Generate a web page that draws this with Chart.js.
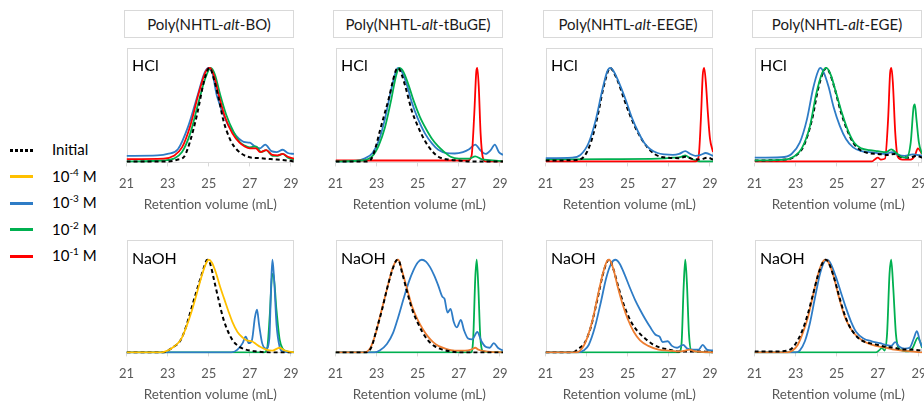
<!DOCTYPE html>
<html>
<head>
<meta charset="utf-8">
<script src="https://cdn.jsdelivr.net/npm/chart.js@4.4.1/dist/chart.umd.min.js"></script>
<style>
  html, body { margin:0; padding:0; background:#fff; }
  body { position:relative; width:924px; height:402px; overflow:hidden; font-family: Lato, "Open Sans", sans-serif; }
  .tbox { position:absolute; top:10px; height:26px; width:168px; border:1px solid #d9d9d9; box-sizing:content-box;
          display:flex; align-items:center; justify-content:center; font-size:15px; color:#1a1a1a; white-space:nowrap; }
  .cv { position:absolute; }
  .plabel { position:absolute; font-size:16px; color:#000; line-height:16px; }
  .leg { position:absolute; left:10px; width:23px; height:3px; }
  .legt { position:absolute; left:52px; font-size:15px; color:#000; line-height:16px; }
  .legt sup { font-size:10px; vertical-align:6px; line-height:0; }
</style>
</head>
<body>
<script>
// ---------------- DATA ----------------
const xTicks = [21, 23, 25, 27, 29];
const xMin = 21, xMax = 29.15;
const polymerNames = ['BO', 'tBuGE', 'EEGE', 'EGE'];
const conditions = ['HCl', 'NaOH'];
const axisTitle = 'Retention volume (mL)';
const legendLabels = ['Initial', '10<sup>-4</sup> M', '10<sup>-3</sup> M', '10<sup>-2</sup> M', '10<sup>-1</sup> M'];

// Poly(NHTL-alt-BO), HCl
const boHclInitial = [[21,0],[23,0],[23.5,0.02],[23.8,0.05],[24.1,0.22],[24.45,0.52],[24.75,0.84],[24.95,0.98],[25.05,1.0],[25.25,0.88],[25.5,0.66],[25.7,0.45],[26.05,0.23],[26.35,0.13],[26.9,0.05],[27.5,0.035],[28,0.025],[28.8,0.01],[29.15,0]];
const boHcl1e3 = [[21,0.06],[22.5,0.065],[23.0,0.08],[23.5,0.13],[24.0,0.375],[24.45,0.7],[24.8,0.95],[25.0,1.0],[25.15,0.97],[25.4,0.7],[25.9,0.41],[26.35,0.27],[26.7,0.21],[27.0,0.2],[27.25,0.16],[27.5,0.14],[27.75,0.18],[28.05,0.11],[28.3,0.1],[28.6,0.125],[28.85,0.09],[29.15,0.08]];
const boHcl1e2 = [[21,0.0],[22.8,0.01],[23.3,0.03],[23.7,0.1],[24.1,0.3],[24.5,0.63],[24.85,0.9],[25.1,1.0],[25.3,0.93],[25.55,0.72],[25.85,0.5],[26.2,0.32],[26.5,0.21],[26.75,0.17],[27.0,0.15],[27.3,0.16],[27.55,0.1],[27.8,0.12],[28.1,0.06],[28.35,0.06],[28.6,0.08],[28.85,0.04],[29.15,0.02]];
const boHcl1e1 = [[21,0.025],[22.8,0.03],[23.3,0.06],[23.7,0.15],[24.1,0.38],[24.5,0.72],[24.85,0.96],[25.05,1.0],[25.25,0.92],[25.5,0.7],[25.8,0.47],[26.15,0.3],[26.5,0.2],[26.75,0.16],[27.0,0.14],[27.3,0.14],[27.5,0.1],[27.8,0.12],[28.1,0.07],[28.35,0.065],[28.6,0.08],[28.85,0.05],[29.15,0.03]];

// Poly(NHTL-alt-tBuGE), HCl
const tbuHclInitial = [[21,0],[22.5,0],[22.75,0.03],[22.95,0.15],[23.15,0.32],[23.4,0.52],[23.6,0.68],[23.8,0.87],[23.95,0.98],[24.05,1.0],[24.2,0.94],[24.45,0.76],[24.7,0.55],[25.0,0.38],[25.35,0.22],[25.7,0.11],[26.0,0.05],[26.5,0.02],[27.0,0.01],[27.5,0],[29.15,0]];
const tbuHcl1e3 = [[21,0],[22.0,0.005],[22.4,0.03],[22.8,0.09],[23.1,0.22],[23.4,0.45],[23.7,0.76],[23.95,0.97],[24.05,1.0],[24.25,0.95],[24.5,0.8],[24.7,0.64],[25.0,0.46],[25.35,0.3],[25.7,0.19],[26.0,0.125],[26.4,0.09],[26.8,0.085],[27.2,0.1],[27.5,0.13],[27.8,0.18],[28.05,0.12],[28.3,0.08],[28.55,0.12],[28.75,0.18],[28.95,0.1],[29.15,0.07]];
const tbuHcl1e2 = [[21,0],[22.3,0.01],[22.8,0.06],[23.1,0.17],[23.4,0.36],[23.7,0.65],[23.95,0.92],[24.1,1.0],[24.3,0.96],[24.55,0.82],[24.8,0.65],[25.1,0.48],[25.4,0.35],[25.7,0.24],[26.0,0.16],[26.3,0.1],[26.6,0.05],[27.0,0.03],[27.5,0.03],[27.8,0.055],[28.1,0.025],[28.5,0.015],[29.15,0]];
const tbuHcl1e1 = [[21,0.01],[27.45,0.01],[27.62,0.06],[27.75,0.5],[27.85,0.96],[27.9,1.0],[27.97,0.8],[28.06,0.3],[28.16,0.05],[28.3,0],[29.15,0]];

// Poly(NHTL-alt-EEGE), HCl
const eegeHclInitial = [[21,0.01],[22.5,0.015],[22.9,0.06],[23.2,0.2],[23.5,0.45],[23.8,0.77],[24.05,0.97],[24.15,1.0],[24.3,0.96],[24.55,0.84],[24.8,0.68],[25.1,0.5],[25.4,0.35],[25.7,0.23],[26.0,0.14],[26.3,0.08],[26.6,0.05],[27.0,0.04],[27.5,0.035],[27.8,0.05],[28.1,0.03],[28.5,0.02],[28.9,0.04],[29.15,0.02]];
const eegeHcl1e3 = [[21,0.035],[22.3,0.04],[22.7,0.07],[23.1,0.2],[23.45,0.45],[23.75,0.75],[24.0,0.96],[24.15,1.0],[24.3,0.97],[24.6,0.83],[24.9,0.66],[25.2,0.47],[25.5,0.32],[25.8,0.2],[26.1,0.13],[26.45,0.09],[26.8,0.075],[27.2,0.07],[27.5,0.08],[27.8,0.11],[28.05,0.08],[28.3,0.06],[28.55,0.07],[28.8,0.09],[29.15,0.06]];
const eegeHcl1e2 = [[21,0.02],[24,0.025],[26.5,0.03],[27.2,0.04],[27.6,0.05],[27.8,0.065],[28.0,0.04],[28.3,0.01],[28.5,0],[29.15,0]];
const eegeHcl1e1 = [[21,0],[28.3,0],[28.45,0.05],[28.56,0.45],[28.65,0.92],[28.72,1.0],[28.8,0.85],[28.9,0.52],[29.0,0.25],[29.15,0.1]];

// Poly(NHTL-alt-EGE), HCl
const egeHclInitial = [[21,0.01],[22.5,0.02],[23.0,0.06],[23.4,0.17],[23.8,0.45],[24.1,0.78],[24.35,0.96],[24.5,1.0],[24.65,0.95],[24.9,0.78],[25.2,0.53],[25.5,0.34],[25.8,0.2],[26.1,0.13],[26.5,0.09],[27.0,0.08],[27.5,0.07],[27.8,0.08],[28.1,0.05],[28.5,0.04],[28.9,0.06],[29.15,0.04]];
const egeHcl1e3 = [[21,0.04],[22.3,0.045],[22.8,0.08],[23.2,0.2],[23.55,0.45],[23.85,0.78],[24.1,0.97],[24.2,1.0],[24.35,0.96],[24.6,0.8],[24.85,0.58],[25.15,0.38],[25.45,0.24],[25.8,0.15],[26.2,0.11],[26.6,0.1],[27.0,0.09],[27.35,0.08],[27.7,0.1],[28.0,0.07],[28.3,0.06],[28.7,0.075],[29.15,0.06]];
const egeHcl1e2 = [[21,0.01],[22.5,0.02],[22.9,0.05],[23.3,0.14],[23.7,0.38],[24.0,0.72],[24.3,0.95],[24.5,1.0],[24.7,0.93],[24.95,0.75],[25.25,0.52],[25.55,0.33],[25.85,0.2],[26.2,0.14],[26.6,0.12],[27.0,0.11],[27.4,0.1],[27.65,0.13],[27.9,0.09],[28.15,0.05],[28.4,0.04],[28.6,0.2],[28.74,0.58],[28.8,0.61],[28.88,0.45],[29.0,0.2],[29.15,0.08]];
const egeHcl1e1 = [[21,0],[26.7,0],[26.85,0.02],[27.0,0.04],[27.15,0.02],[27.35,0.03],[27.5,0.45],[27.6,0.95],[27.66,1.0],[27.73,0.85],[27.85,0.3],[27.97,0.05],[28.2,0.02],[28.6,0.02],[28.8,0.06],[28.95,0.14],[29.15,0.08]];

// Poly(NHTL-alt-BO), NaOH
const boNaohInitial = [[21,0],[22.8,0],[23.0,0.02],[23.3,0.06],[23.65,0.14],[23.9,0.28],[24.1,0.43],[24.35,0.62],[24.6,0.8],[24.8,0.94],[24.92,1.0],[25.05,0.97],[25.3,0.74],[25.5,0.55],[25.7,0.37],[25.95,0.22],[26.2,0.12],[26.5,0.06],[26.8,0.03],[27.3,0.01],[28,0],[29.15,0]];
const boNaoh1e4 = [[21,0],[22.7,0],[23.0,0.02],[23.3,0.06],[23.65,0.14],[23.9,0.27],[24.15,0.43],[24.4,0.62],[24.65,0.82],[24.85,0.95],[25.0,1.0],[25.15,0.97],[25.35,0.86],[25.55,0.71],[25.75,0.58],[25.95,0.45],[26.15,0.33],[26.4,0.22],[26.65,0.16],[26.85,0.13],[27.1,0.12],[27.3,0.09],[27.5,0.06],[27.8,0.03],[28.1,0.02],[28.45,0.05],[28.7,0.02],[29.15,0]];
const boNaoh1e3 = [[21,0],[26.1,0],[26.4,0.03],[26.65,0.1],[26.8,0.17],[26.95,0.1],[27.1,0.13],[27.25,0.38],[27.35,0.46],[27.45,0.3],[27.6,0.1],[27.8,0.04],[27.95,0.15],[28.04,0.75],[28.1,1.0],[28.18,0.8],[28.3,0.3],[28.45,0.06],[28.6,0.01],[29.15,0]];
const boNaoh1e2 = [[21,0],[27.7,0],[27.85,0.05],[27.97,0.4],[28.08,0.82],[28.14,0.85],[28.3,0.45],[28.45,0.14],[28.6,0.04],[28.8,0.01],[29.15,0]];

// Poly(NHTL-alt-tBuGE), NaOH
const tbuNaohInitial = [[21,0],[22.5,0],[22.75,0.06],[23.0,0.25],[23.25,0.45],[23.5,0.68],[23.75,0.88],[23.95,0.99],[24.05,1.0],[24.25,0.85],[24.5,0.64],[24.75,0.45],[25.0,0.32],[25.25,0.21],[25.5,0.13],[25.8,0.07],[26.2,0.03],[26.6,0.01],[27,0],[29.15,0]];
const tbuNaoh1e4 = [[21,0],[22.4,0],[22.7,0.05],[22.95,0.2],[23.2,0.42],[23.5,0.68],[23.75,0.89],[23.95,0.99],[24.05,1.0],[24.25,0.87],[24.5,0.67],[24.75,0.48],[25.0,0.35],[25.25,0.25],[25.5,0.17],[25.75,0.11],[26.0,0.07],[26.35,0.04],[26.8,0.02],[27.3,0.02],[27.6,0.03],[27.8,0.05],[27.95,0.03],[28.3,0.01],[29.15,0]];
const tbuNaoh1e3 = [[21,0],[22.9,0],[23.15,0.02],[23.5,0.09],[23.8,0.21],[24.05,0.38],[24.3,0.57],[24.55,0.75],[24.8,0.89],[25.0,0.97],[25.2,1.0],[25.4,0.98],[25.6,0.92],[25.8,0.83],[26.0,0.72],[26.2,0.6],[26.3,0.58],[26.45,0.43],[26.6,0.47],[26.75,0.33],[26.9,0.27],[27.1,0.35],[27.25,0.24],[27.45,0.15],[27.65,0.14],[27.9,0.22],[28.1,0.12],[28.3,0.06],[28.5,0.05],[28.7,0.1],[28.9,0.05],[29.15,0.02]];
const tbuNaoh1e2 = [[21,0],[27.6,0],[27.7,0.15],[27.8,0.8],[27.87,1.0],[27.95,0.7],[28.05,0.15],[28.2,0.01],[29.15,0]];

// Poly(NHTL-alt-EEGE), NaOH
const eegeNaohInitial = [[21,0],[22.3,0],[22.6,0.04],[22.9,0.1],[23.2,0.27],[23.5,0.55],[23.8,0.85],[24.0,0.98],[24.1,1.0],[24.3,0.9],[24.55,0.7],[24.8,0.52],[25.05,0.38],[25.3,0.28],[25.6,0.2],[25.9,0.14],[26.2,0.09],[26.6,0.05],[27.0,0.03],[27.5,0.01],[28,0.01],[28.6,0.01],[29.15,0]];
const eegeNaoh1e4 = [[21,0],[22.5,0],[22.8,0.05],[23.05,0.17],[23.3,0.36],[23.55,0.62],[23.8,0.86],[24.0,0.99],[24.1,1.0],[24.3,0.9],[24.5,0.72],[24.75,0.52],[25.0,0.36],[25.3,0.22],[25.6,0.13],[26.0,0.07],[26.5,0.03],[27.0,0.02],[27.5,0.01],[27.8,0.02],[28.0,0.03],[28.3,0.01],[29.15,0]];
const eegeNaoh1e3 = [[21,0],[22.6,0],[22.85,0.02],[23.1,0.08],[23.4,0.27],[23.7,0.55],[23.95,0.8],[24.2,0.96],[24.4,1.0],[24.6,0.96],[24.85,0.84],[25.1,0.7],[25.35,0.57],[25.6,0.46],[25.85,0.36],[26.1,0.27],[26.35,0.19],[26.55,0.17],[26.7,0.11],[26.95,0.12],[27.15,0.07],[27.4,0.05],[27.7,0.08],[27.9,0.04],[28.2,0.03],[28.45,0.03],[28.65,0.08],[28.85,0.03],[29.15,0.02]];
const eegeNaoh1e2 = [[21,0],[27.5,0],[27.62,0.1],[27.72,0.7],[27.8,1.0],[27.88,0.75],[27.98,0.2],[28.1,0.02],[29.15,0]];

// Poly(NHTL-alt-EGE), NaOH
const egeNaohInitial = [[21,0.01],[22.0,0.01],[22.6,0.02],[22.85,0.05],[23.1,0.13],[23.35,0.25],[23.6,0.42],[23.85,0.63],[24.1,0.84],[24.3,0.96],[24.45,1.0],[24.6,0.97],[24.85,0.82],[25.1,0.62],[25.35,0.43],[25.6,0.29],[25.9,0.19],[26.2,0.13],[26.6,0.1],[27.0,0.08],[27.4,0.06],[27.8,0.05],[28.2,0.03],[28.6,0.03],[29.15,0.02]];
const egeNaoh1e4 = [[21,0],[22.6,0],[22.85,0.02],[23.1,0.08],[23.35,0.21],[23.6,0.38],[23.85,0.62],[24.1,0.85],[24.3,0.97],[24.45,1.0],[24.6,0.97],[24.85,0.82],[25.1,0.6],[25.4,0.38],[25.7,0.25],[26.0,0.17],[26.4,0.11],[26.9,0.07],[27.4,0.05],[27.8,0.03],[28.2,0.02],[28.6,0.01],[29.15,0]];
const egeNaoh1e3 = [[21,0],[23.0,0],[23.2,0.02],[23.45,0.12],[23.7,0.32],[23.95,0.6],[24.2,0.86],[24.4,0.98],[24.52,1.0],[24.7,0.96],[24.95,0.82],[25.2,0.65],[25.45,0.48],[25.7,0.33],[25.95,0.22],[26.3,0.15],[26.7,0.12],[27.1,0.1],[27.4,0.08],[27.65,0.07],[27.85,0.11],[28.05,0.06],[28.3,0.04],[28.55,0.05],[28.75,0.15],[28.9,0.23],[29.05,0.12],[29.15,0.06]];
const egeNaoh1e2 = [[21,0],[26.9,0],[27.1,0.03],[27.2,0.05],[27.32,0.02],[27.45,0.2],[27.57,0.85],[27.65,1.0],[27.75,0.7],[27.88,0.2],[28.0,0.05],[28.2,0.02],[28.5,0.01],[28.7,0.05],[28.95,0.16],[29.05,0.12],[29.15,0.05]];

// ---------------- STYLE ----------------
const C = { init:'#000000', y:'#FFC000', o:'#ED7D31', b:'#2E7CC6', g:'#00B050', r:'#FF0000' };

// panels: [row][col] -> list of [data, colorKey]
const panels = [
  [
    [[boHcl1e3,'b'],[boHcl1e2,'g'],[boHcl1e1,'r'],[boHclInitial,'init']],
    [[tbuHcl1e3,'b'],[tbuHcl1e1,'r'],[tbuHcl1e2,'g'],[tbuHclInitial,'init']],
    [[eegeHcl1e2,'g'],[eegeHcl1e1,'r'],[eegeHclInitial,'init'],[eegeHcl1e3,'b']],
    [[egeHcl1e1,'r'],[egeHcl1e3,'b'],[egeHclInitial,'init'],[egeHcl1e2,'g']]
  ],
  [
    [[boNaoh1e2,'g'],[boNaoh1e3,'b'],[boNaohInitial,'init'],[boNaoh1e4,'y']],
    [[tbuNaoh1e2,'g'],[tbuNaoh1e3,'b'],[tbuNaoh1e4,'o'],[tbuNaohInitial,'init']],
    [[eegeNaoh1e2,'g'],[eegeNaoh1e3,'b'],[eegeNaohInitial,'init'],[eegeNaoh1e4,'o']],
    [[egeNaoh1e2,'g'],[egeNaoh1e3,'b'],[egeNaoh1e4,'o'],[egeNaohInitial,'init']]
  ]
];

// ---------------- LAYOUT ----------------
const boxLeft = [124, 333, 543, 752];
const boxW = 170;
const rowTop = [48, 240];
const rowBoxH = [116, 114];
const rowYMin = [-0.021, -0.011];
const yMax = 1.213;
const PADX = 15, PADT = 1, AXIS_H = 50;

Chart.defaults.font.family = 'Lato, "Open Sans", sans-serif';

const boxPlugin = {
  id: 'boxPlugin',
  beforeDatasetsDraw(chart) {
    const {ctx, chartArea: a} = chart;
    ctx.save();
    ctx.strokeStyle = '#d9d9d9';
    ctx.lineWidth = 1;
    ctx.strokeRect(Math.round(a.left) + 0.5, Math.round(a.top) + 0.5, Math.round(a.right - a.left) - 1, Math.round(a.bottom - a.top) - 1);
    ctx.restore();
  }
};

// titles
polymerNames.forEach((n, i) => {
  const d = document.createElement('div');
  d.className = 'tbox';
  d.style.left = boxLeft[i] + 'px';
  d.innerHTML = 'Poly(NHTL-<i>alt</i>-' + n + ')';
  document.body.appendChild(d);
});

// legend
const legColors = ['init', 'y', 'b', 'g', 'r'];
const legY = [150, 176.5, 203, 229.5, 256];
legendLabels.forEach((t, i) => {
  const l = document.createElement('div');
  l.className = 'leg';
  l.style.top = (legY[i] - 1.5) + 'px';
  if (legColors[i] === 'init') {
    l.style.background = 'repeating-linear-gradient(90deg,#000 0 3px,transparent 3px 5px)';
  } else {
    l.style.background = C[legColors[i]];
  }
  document.body.appendChild(l);
  const s = document.createElement('div');
  s.className = 'legt';
  s.style.top = (legY[i] - 9) + 'px';
  s.innerHTML = t;
  document.body.appendChild(s);
});

// charts
for (let r = 0; r < 2; r++) {
  for (let c = 0; c < 4; c++) {
    const cv = document.createElement('canvas');
    cv.className = 'cv';
    const w = boxW + 2 * PADX;
    const h = PADT + rowBoxH[r] + AXIS_H;
    cv.width = w; cv.height = h;
    cv.style.width = w + 'px'; cv.style.height = h + 'px';
    cv.style.left = (boxLeft[c] - PADX) + 'px';
    cv.style.top = (rowTop[r] - PADT) + 'px';
    document.body.appendChild(cv);

    const lab = document.createElement('div');
    lab.className = 'plabel';
    lab.style.left = (boxLeft[c] + 8) + 'px';
    lab.style.top = (rowTop[r] + (r === 0 ? 9 : 10)) + 'px';
    lab.textContent = conditions[r];
    document.body.appendChild(lab);

    const datasets = panels[r][c].map(([data, key], i) => ({
      data: data.map(p => ({x: p[0], y: p[1]})),
      borderColor: C[key],
      borderWidth: key === 'init' ? 2 : 1.8,
      borderDash: key === 'init' ? [4, 3] : [],
      pointRadius: 0,
      fill: false,
      tension: 0,
      cubicInterpolationMode: 'monotone',
      order: panels[r][c].length - i
    }));

    new Chart(cv, {
      type: 'line',
      data: { datasets },
      plugins: [boxPlugin],
      options: {
        responsive: false,
        animation: false,
        events: [],
        layout: { padding: { left: PADX, right: PADX, top: PADT, bottom: 0.8 } },
        plugins: { legend: { display: false }, tooltip: { enabled: false } },
        scales: {
          x: {
            type: 'linear', min: xMin, max: xMax,
            afterBuildTicks: axis => { axis.ticks = xTicks.map(v => ({ value: v })); },
            grid: { display: true, drawOnChartArea: false, drawTicks: true, tickLength: 3, color: '#d9d9d9' },
            border: { display: false },
            ticks: { color: '#595959', font: { size: 13 }, padding: 10, maxRotation: 0, autoSkip: false },
            title: { display: true, text: axisTitle, color: '#595959', font: { size: 13.5 }, padding: { top: -5, bottom: 0 } }
          },
          y: { display: false, min: rowYMin[r], max: yMax }
        }
      }
    });
  }
}
</script>
</body>
</html>
